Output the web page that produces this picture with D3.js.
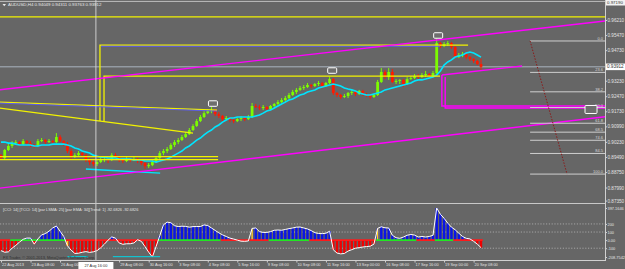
<!DOCTYPE html>
<html><head><meta charset="utf-8">
<script src="https://cdn.jsdelivr.net/npm/d3@7"></script>
<style>html,body{margin:0;padding:0;background:#666;overflow:hidden}svg{display:block}</style>
</head><body><svg id="c" width="625" height="269"></svg>
<script>
// ---------- DATA ----------
const symbol = "AUDUSD,H4";
const opens = [.8958,.8944,.8983,.9003,.9017,.9022,.9012,.9027,.9017,.9008,
.9003,.9027,.9032,.9022,.9027,.9022,.9047,.9027,.9012,.8978,
.8953,.8958,.8968,.8958,.8934,.8924,.8914,.8924,.8934,.8939,
.8934,.8958,.8948,.8934,.8929,.8939,.8934,.8939,.8929,.8919,
.8904,.8909,.8924,.8944,.8968,.8978,.8988,.9008,.9022,.9032,
.9047,.9061,.9081,.9101,.9125,.9145,.9164,.9174,.9179,.9159,
.9150,.9135,.9140,.9130,.9125,.9135,.9140,.9135,.9145,.9199,
.9194,.9189,.9194,.9184,.9199,.9209,.9218,.9228,.9238,.9253,
.9268,.9278,.9287,.9292,.9302,.9297,.9307,.9312,.9297,.9312,
.9331,.9263,.9253,.9243,.9248,.9263,.9268,.9258,.9273,.9258,
.9253,.9243,.9253,.9317,.9366,.9341,.9366,.9317,.9322,.9327,
.9307,.9331,.9336,.9346,.9341,.9351,.9356,.9346,.9361,.9508,
.9493,.9503,.9508,.9488,.9439,.9449,.9454,.9439,.9429,.9420,
.94049];
const highs = [.8963,.8988,.9012,.9027,.9032,.9027,.9037,.9032,.9027,.9012,
.9037,.9042,.9037,.9037,.9032,.9066,.9057,.9032,.9022,.8988,
.8968,.8978,.8973,.8963,.8944,.8934,.8934,.8944,.8948,.8944,
.8968,.8968,.8953,.8939,.8948,.8944,.8948,.8944,.8934,.8924,
.8919,.8934,.8953,.8978,.8988,.8998,.9017,.9032,.9042,.9057,
.9071,.9091,.9110,.9135,.9155,.9174,.9184,.9194,.9184,.9169,
.9155,.9150,.9145,.9140,.9140,.9150,.9145,.9155,.9214,.9209,
.9204,.9204,.9199,.9204,.9214,.9228,.9238,.9248,.9263,.9278,
.9287,.9297,.9302,.9312,.9307,.9312,.9322,.9317,.9317,.9341,
.9336,.9268,.9258,.9258,.9268,.9278,.9273,.9278,.9278,.9263,
.9258,.9258,.9327,.9385,.9376,.9385,.9380,.9331,.9331,.9331,
.9341,.9346,.9356,.9356,.9361,.9371,.9361,.9371,.9537,.9513,
.9513,.9518,.9513,.9493,.9459,.9464,.9459,.9444,.9434,.9425,
.94311];
const lows = [.8934,.8939,.8978,.8993,.9008,.9003,.9008,.9008,.8998,.8993,
.8998,.9022,.9012,.9017,.9012,.9017,.9022,.9003,.8968,.8934,
.8944,.8953,.8948,.8924,.8909,.8904,.8904,.8919,.8924,.8919,
.8929,.8939,.8924,.8919,.8924,.8924,.8929,.8919,.8909,.8890,
.8895,.8904,.8919,.8934,.8958,.8968,.8983,.8998,.9012,.9027,
.9042,.9057,.9076,.9096,.9120,.9140,.9159,.9164,.9150,.9140,
.9125,.9130,.9120,.9115,.9120,.9125,.9125,.9130,.9140,.9189,
.9179,.9179,.9169,.9179,.9194,.9204,.9214,.9218,.9233,.9248,
.9258,.9273,.9278,.9287,.9287,.9292,.9297,.9287,.9292,.9307,
.9253,.9243,.9233,.9238,.9238,.9253,.9248,.9253,.9248,.9243,
.9233,.9238,.9248,.9312,.9331,.9327,.9312,.9307,.9307,.9292,
.9302,.9327,.9331,.9331,.9336,.9341,.9341,.9341,.9356,.9483,
.9488,.9493,.9479,.9434,.9434,.9439,.9429,.9420,.9410,.9400,
.93763];
const closes = [.8944,.8983,.9003,.9017,.9022,.9012,.9027,.9017,.9008,.9003,
.9027,.9032,.9022,.9027,.9022,.9047,.9027,.9012,.8978,.8953,
.8958,.8968,.8958,.8934,.8924,.8914,.8924,.8934,.8939,.8934,
.8958,.8948,.8934,.8929,.8939,.8934,.8939,.8929,.8919,.8904,
.8909,.8924,.8944,.8968,.8978,.8988,.9008,.9022,.9032,.9047,
.9061,.9081,.9101,.9125,.9145,.9164,.9174,.9179,.9159,.9150,
.9135,.9140,.9130,.9125,.9135,.9140,.9135,.9145,.9199,.9194,
.9189,.9194,.9184,.9199,.9209,.9218,.9228,.9238,.9253,.9268,
.9278,.9287,.9292,.9302,.9297,.9307,.9312,.9297,.9312,.9331,
.9263,.9253,.9243,.9248,.9263,.9268,.9258,.9273,.9258,.9253,
.9243,.9253,.9317,.9366,.9341,.9366,.9317,.9322,.9327,.9307,
.9331,.9336,.9346,.9341,.9351,.9356,.9346,.9361,.9508,.9493,
.9503,.9508,.9488,.9439,.9449,.9454,.9439,.9429,.9420,.94049,
.93912];
const maValues = [.9022,.9022,.9017,.9017,.9012,.9008,.9008,.9008,.9008,.9003,
.9003,.9008,.9008,.9008,.9012,.9012,.9012,.9012,.9008,.9003,
.8993,.8988,.8978,.8973,.8968,.8958,.8953,.8948,.8948,.8944,
.8944,.8944,.8939,.8939,.8939,.8939,.8934,.8934,.8934,.8929,
.8929,.8929,.8924,.8929,.8934,.8939,.8948,.8958,.8968,.8978,
.8993,.9003,.9017,.9032,.9042,.9057,.9071,.9081,.9096,.9106,
.9120,.9130,.9140,.9140,.9145,.9145,.9145,.9145,.9145,.9150,
.9155,.9164,.9174,.9179,.9189,.9199,.9209,.9218,.9228,.9233,
.9243,.9253,.9258,.9268,.9273,.9278,.9287,.9292,.9297,.9302,
.9307,.9302,.9297,.9287,.9282,.9278,.9273,.9263,.9258,.9253,
.9253,.9258,.9263,.9268,.9278,.9282,.9287,.9292,.9297,.9302,
.9307,.9312,.9322,.9327,.9327,.9331,.9336,.9341,.9351,.9371,
.9400,.9415,.9425,.9439,.9444,.9449,.9459,.9464,.9459,.9449,
.9439];
const cciValues = [-130,-150,-145,-100,-65,-25,10,25,25,-50,
15,65,80,110,150,175,110,45,-70,-125,
-165,-162,-150,-142,-152,-145,-130,-95,-50,0,
40,25,-35,-52,-45,-45,-35,5,-15,-80,
-150,-208.7542,-80,55,190,222,215,178,168,172,
170,160,167,168,168,188,180,150,120,90,
65,45,25,13,0,-13,-15,-10,145,150,
105,95,95,105,122,125,122,132,142,150,
160,162,150,138,118,92,82,80,85,110,
-120,-160,-170,-165,-135,-118,-100,-93,-85,-80,
-75,-50,145,165,152,150,60,30,22,38,
60,70,62,38,45,38,45,60,397.1646,320,
270,210,160,128,85,45,22,15,-15,-50,
-92.6826];
// trend state of the CCI zero line: [firstBar, lastBar, state]
const trendSegments = [[0,2,-1],[3,17,1],[18,42,-1],[43,59,1],[60,72,-1],[73,83,1],[84,101,-1],[102,112,1],[113,117,-1],[118,122,1],[123,130,-1]];
const signalBars = [10,18,68,102];
const cciCyanSegments = [[[18,-205],[23.6,-205]],[[30.3,-205],[43.1,-205]]];

// time labels (the 27 Aug 16:00 tick is covered by the crosshair time box)
const timeLabels = ["22 Aug 2013","23 Aug 08:00","26 Aug 00:00","29 Aug 08:00","30 Aug 16:00","3 Sep 08:00","4 Sep 08:00","5 Sep 16:00","9 Sep 08:00","10 Sep 08:00","11 Sep 16:00","13 Sep 00:00","16 Sep 08:00","17 Sep 16:00","19 Sep 00:00","20 Sep 08:00"];
const timeLabelBars = [0,8,16,32,40,48,56,64,72,80,88,96,104,112,120,128];
const priceTickValues = [0.96210,0.95470,0.94730,0.93230,0.92470,0.91730,0.90990,0.90230,0.89490,0.88750,0.87990,0.87350];
const cciTickValues = [397.1646,200,100,0,-100,-208.7542];
const cciTickLabels = ["397.1646","200","100","0.00","-100","-208.7542"];
const cciLevels = [200,100,-100];

// chart objects, in [bar, price] coordinates
const yellowLines = [
  [[-0.3,0.9636],[163.6,0.9636]],
  [[126.5,0.9498],[26.8,0.9498],[26.8,0.9125]],
  [[118.9,0.9346],[27.9,0.9346],[27.9,0.9125]],
  [[-0.3,0.9218],[58.5,0.9179]],
  [[-0.3,0.9189],[52.0,0.9066]],
  [[-0.3,0.8951],[58.8,0.8951]],
  [[-0.3,0.8936],[58.8,0.8936]]
];
const blueLines = [
  [[27.1,0.9492],[118.9,0.9492]],
  [[-0.3,0.9213],[58.5,0.9174]]
];
const cyanLines = [ [[23.0,0.8890],[27.6,0.8885],[43.1,0.8870]] ];
const magentaLines = [
  [[-0.3,0.9279],[163.6,0.9616]],
  [[-0.3,0.8796],[163.6,0.9146]],
  [[119.4,0.9351],[141.1,0.9395]],
  [[119.4,0.9351],[119.4,0.9199],[163.6,0.9199]],
  [[120.3,0.9341],[120.3,0.9189],[163.6,0.9189]]
];
const grayLines = [ [[-0.3,0.9712],[163.6,0.9712]] ];
const fibLevels = [0,23.6,38.2,50,61.8,68.5,74.6,84.5,100];
const fibLabels = ["0.0","23.6","38.2","50.0","61.8","68.5","74.6","84.5","100.0"];
const fibBars = [143.3,163.6];
const fibPrices = [0.9518,0.8865];
const fibTrend = [[143.3,0.9518],[153.3,0.8865]];
const priceMarkers = [[57.4,0.9211],[89.7,0.9373],[118.4,0.9545],[159.8,0.9182]];
const crosshairBar = 25.7;
const crosshairLabel = "27 Aug 16:00";
const topPriceLabel = "0.97190";
const indicatorName = "[CCI: 14] [TCCI: 14] [par LSMA: 25] [par EMA: 34][Trend: 1]";
const copyright = "FX Trader, \u00a9 2001-2013, MetaQuotes Software Corp.";

// ---------- DRAWING ----------
const N = closes.length;
const FONT = "'Liberation Sans', Arial, sans-serif";
const svg = d3.select('#c');
const plotRight = 605;
const x = d3.scaleLinear().domain([0, N-1]).range([1, 481]);
const y = d3.scaleLinear().domain([0.8733, 0.9719]).range([201, 0]);
const cy = d3.scaleLinear().domain([-208.7542, 397.1646]).range([257, 208]);
const bull = '#7cfc00', bear = '#ff1a00';

svg.append('rect').attr('width',625).attr('height',269).attr('fill','#666666');
const defs = svg.append('defs');
defs.append('clipPath').attr('id','cp').append('rect').attr('x',0).attr('y',0).attr('width',plotRight).attr('height',203);
defs.append('clipPath').attr('id','ci').append('rect').attr('x',0).attr('y',204).attr('width',plotRight).attr('height',56);

const gp = svg.append('g').attr('clip-path','url(#cp)');
const pl = d3.line().x(d=>x(d[0])).y(d=>y(d[1]));

grayLines.forEach(l=>gp.append('path').attr('d',pl(l)).attr('fill','none').attr('stroke','#bdbdbd').attr('stroke-width',1));
gp.append('line').attr('x1',0).attr('x2',plotRight).attr('y1',y(closes[N-1])).attr('y2',y(closes[N-1]))
  .attr('stroke','#aab4bf').attr('stroke-width',1);

// candles
const isBull = i => closes[i] >= opens[i];
gp.append('g').selectAll('line').data(d3.range(N)).join('line')
  .attr('x1',i=>x(i)).attr('x2',i=>x(i)).attr('y1',i=>y(highs[i])).attr('y2',i=>y(lows[i]))
  .attr('stroke',i=>isBull(i)?bull:bear).attr('stroke-width',1);
gp.append('g').selectAll('rect').data(d3.range(N)).join('rect')
  .attr('x',i=>x(i)-1.4).attr('width',2.8)
  .attr('y',i=>y(Math.max(opens[i],closes[i])))
  .attr('height',i=>Math.max(0.9, Math.abs(y(opens[i])-y(closes[i]))))
  .attr('fill',i=>isBull(i)?bull:bear);

// moving average
gp.append('path').datum(maValues).attr('d',d3.line().x((d,i)=>x(i)).y(d=>y(d)))
  .attr('fill','none').attr('stroke','#00e5ff').attr('stroke-width',1.6);

// objects
yellowLines.forEach(l=>gp.append('path').attr('d',pl(l)).attr('fill','none').attr('stroke','#f2f200').attr('stroke-width',1.3));
blueLines.forEach(l=>gp.append('path').attr('d',pl(l)).attr('fill','none').attr('stroke','#5a5aff').attr('stroke-width',0.9));
cyanLines.forEach(l=>gp.append('path').attr('d',pl(l)).attr('fill','none').attr('stroke','#00e5ff').attr('stroke-width',1.3));
magentaLines.forEach(l=>gp.append('path').attr('d',pl(l)).attr('fill','none').attr('stroke','#ff00ff').attr('stroke-width',1.4));

// fibonacci
const fibPrice = lv => fibPrices[0] + (fibPrices[1]-fibPrices[0])*lv/100;
fibLevels.forEach((lv,k)=>{
  const py = y(fibPrice(lv));
  gp.append('line').attr('x1',x(fibBars[0])).attr('x2',x(fibBars[1])).attr('y1',py).attr('y2',py)
    .attr('stroke','#cfcfcf').attr('stroke-width',1);
  gp.append('text').attr('x',plotRight-2).attr('y',py-1).attr('text-anchor','end')
    .attr('font-family',FONT).attr('font-size',4).attr('fill','#d8d8d8').text(fibLabels[k]);
});
gp.append('path').attr('d',pl(fibTrend)).attr('fill','none').attr('stroke','#8b1a1a').attr('stroke-width',1).attr('stroke-dasharray','1.5,1.5');

// price markers
priceMarkers.forEach((m,k)=>{
  const w = k===3?12:9, h = k===3?8:5.5;
  gp.append('rect').attr('x',x(m[0])-w/2).attr('y',y(m[1])-h/2).attr('width',w).attr('height',h)
    .attr('rx',1).attr('fill','#6e6e6e').attr('stroke','#ffffff').attr('stroke-width',1);
});

// ---------- indicator ----------
const gi = svg.append('g').attr('clip-path','url(#ci)');
cciLevels.forEach(v=>gi.append('line').attr('x1',0).attr('x2',plotRight).attr('y1',cy(v)).attr('y2',cy(v))
  .attr('stroke','#b4b4b4').attr('stroke-width',0.8).attr('stroke-dasharray','1.2,1.6'));
gi.append('g').selectAll('rect').data(d3.range(N)).join('rect')
  .attr('x',i=>x(i)-1.2).attr('width',2.4)
  .attr('y',i=>Math.min(cy(0),cy(cciValues[i])))
  .attr('height',i=>Math.abs(cy(cciValues[i])-cy(0)))
  .attr('fill',i=>cciValues[i]>=0?'#0a14e6':'#f00000');
signalBars.forEach(i=>gi.append('line').attr('x1',x(i)).attr('x2',x(i)).attr('y1',cy(0)).attr('y2',cy(cciValues[i]))
  .attr('stroke','#ffd21a').attr('stroke-width',1.6));
trendSegments.forEach(s=>gi.append('line').attr('x1',x(s[0])-1.8).attr('x2',x(s[1])+1.8).attr('y1',cy(0)).attr('y2',cy(0))
  .attr('stroke',s[2]>0?'#22e622':'#ff1a1a').attr('stroke-width',1.8));
gi.append('path').datum(cciValues).attr('d',d3.line().x((d,i)=>x(i)).y(d=>cy(d)))
  .attr('fill','none').attr('stroke','#ffffff').attr('stroke-width',1);
cciCyanSegments.forEach(l=>gi.append('path').attr('d',d3.line().x(d=>x(d[0])).y(d=>cy(d[1]))(l))
  .attr('fill','none').attr('stroke','#00d8e8').attr('stroke-width',1));
gi.append('text').attr('x',3).attr('y',211).attr('font-family',FONT).attr('font-size',3.9).attr('fill','#e2e2e2')
  .text(indicatorName + ' ' + cciValues[N-1].toFixed(4) + ' ' + cciValues[N-1].toFixed(4));
gi.append('text').attr('x',3).attr('y',259).attr('font-family',FONT).attr('font-size',3.9).attr('fill','#2e2e2e').text(copyright);

// crosshair
svg.append('line').attr('x1',x(crosshairBar)).attr('x2',x(crosshairBar)).attr('y1',0).attr('y2',260)
  .attr('stroke','#d9d9d9').attr('stroke-width',0.9);

// frame lines
svg.append('line').attr('x1',plotRight+0.5).attr('x2',plotRight+0.5).attr('y1',0).attr('y2',261).attr('stroke','#d0d0d0').attr('stroke-width',1);
svg.append('line').attr('x1',0).attr('x2',plotRight).attr('y1',203.5).attr('y2',203.5).attr('stroke','#c8c8c8').attr('stroke-width',1);
svg.append('line').attr('x1',0).attr('x2',plotRight+0.5).attr('y1',260.5).attr('y2',260.5).attr('stroke','#d0d0d0').attr('stroke-width',1);

// axes
function styleAxis(g, fs){
  g.select('.domain').remove();
  g.selectAll('line').attr('stroke','#d0d0d0');
  g.selectAll('text').attr('fill','#e4e4e4').attr('font-family',FONT).attr('font-size',fs);
}
const ya = svg.append('g').attr('transform',`translate(${plotRight+0.5},0)`)
  .call(d3.axisRight(y).tickValues(priceTickValues).tickFormat(d3.format('.5f')).tickSize(1.5).tickPadding(0.5));
styleAxis(ya, 4.6);
const ca = svg.append('g').attr('transform',`translate(${plotRight+0.5},0)`)
  .call(d3.axisRight(cy).tickValues(cciTickValues).tickFormat((d,i)=>cciTickLabels[i]).tickSize(1.5).tickPadding(0.5));
styleAxis(ca, 3.9);
const xa = svg.append('g').attr('transform','translate(0,260.5)')
  .call(d3.axisBottom(x).tickValues(timeLabelBars).tickFormat((d,i)=>timeLabels[i]).tickSize(2).tickPadding(1));
styleAxis(xa, 3.9);
xa.selectAll('text').attr('text-anchor','start').attr('x',0.5);

// current price box and top box
const cp = y(closes[N-1]);
svg.append('rect').attr('x',plotRight+1).attr('y',cp-3.3).attr('width',19).attr('height',6.6).attr('fill','#ffffff');
svg.append('text').attr('x',plotRight+2).attr('y',cp+1.6).attr('font-family',FONT).attr('font-size',4.6).attr('fill','#303030')
  .text(d3.format('.5f')(closes[N-1]));
svg.append('rect').attr('x',plotRight+1).attr('y',0).attr('width',19).attr('height',5.5).attr('fill','#f2f2f2');
svg.append('text').attr('x',plotRight+2).attr('y',4.4).attr('font-family',FONT).attr('font-size',4.4).attr('fill','#303030').text(topPriceLabel);

// crosshair time box
const cx = x(crosshairBar);
svg.append('rect').attr('x',cx-17.5).attr('y',262).attr('width',35).attr('height',7).attr('fill','#ffffff');
svg.append('text').attr('x',cx).attr('y',267.3).attr('text-anchor','middle').attr('font-family',FONT).attr('font-size',3.9)
  .attr('fill','#303030').text(crosshairLabel);

// title
svg.append('path').attr('d','M2.5,4 L6,4 L4.25,6.2 Z').attr('fill','#e8e8e8');
const fmt = d3.format('.5f');
svg.append('text').attr('x',8).attr('y',6.4).attr('font-family',FONT).attr('font-size',4.4).attr('fill','#e8e8e8')
  .text(`${symbol} ${fmt(opens[N-1])} ${fmt(highs[N-1])} ${fmt(lows[N-1])} ${fmt(closes[N-1])}`);
</script>
</body></html>
